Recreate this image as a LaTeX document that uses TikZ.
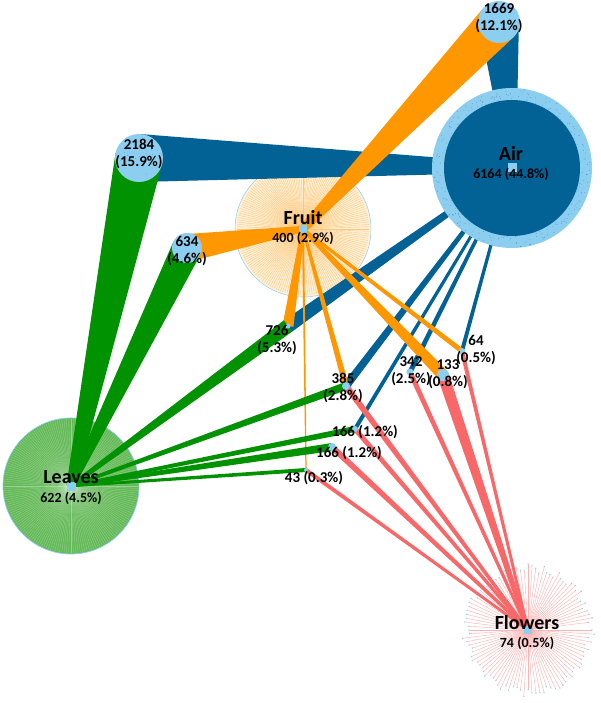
\documentclass[tikz,border=0pt]{standalone}
\usepackage{fontspec}
\setmainfont{Carlito}
\usetikzlibrary{calc}
\pgfdeclarelayer{sets}
\pgfdeclarelayer{links}
\pgfsetlayers{sets,links,main}
\definecolor{airc}{RGB}{2,98,150}
\definecolor{skyc}{RGB}{140,206,240}
\definecolor{orc}{RGB}{255,152,0}
\definecolor{grc}{RGB}{0,146,0}
\definecolor{rdc}{RGB}{248,104,104}
\definecolor{leafc}{RGB}{100,185,88}
% wedge: colour, set node, intersection node, half width at intersection
\newcommand\wdg[4]{%
  \pgfmathsetmacro\apx{0.15*#4+1}%
  \fill[#1] ($(#2)!\apx pt!90:(#3)$) -- ($(#3)!#4pt!-90:(#2)$) -- ($(#3)!#4pt!90:(#2)$) -- ($(#2)!\apx pt!-90:(#3)$) -- cycle;}
\begin{document}
\begin{tikzpicture}[x=1pt,y=-1pt,
  inter/.style={circle,fill=skyc,inner sep=0pt},
  lbl/.style={font=\fontsize{15}{17.5}\selectfont\bfseries,align=center,inner sep=0pt},
  setname/.style={font=\fontsize{20}{22}\selectfont\bfseries,inner sep=0pt},
  setnum/.style={font=\fontsize{14}{16}\selectfont\bfseries,inner sep=0pt},
  ctr/.style={fill=skyc,minimum size=8pt,inner sep=0pt}]
\useasboundingbox (0,0) rectangle (601,703);

% ---------- set circles (below links) ----------
\begin{pgfonlayer}{sets}
\node[circle,minimum size=136pt,fill=orc!15,draw=skyc,line width=0.5pt,inner sep=0pt] (fruit) at (303,229) {};
\foreach \a in {0,2,...,358} \draw[orc!55,line width=0.35pt] (fruit.center) -- ++(\a:66);
\node[circle,minimum size=136pt,fill=leafc,draw=skyc,line width=0.7pt,inner sep=0pt] (leaves) at (71,486) {};
\foreach \a in {0,2,...,358} \draw[white,opacity=0.35,line width=0.3pt] (leaves.center) -- ++(\a:67);
\node[circle,minimum size=136pt,inner sep=0pt] (flowers) at (528,630) {};
\pgfmathsetseed{11}
\foreach \a in {0,3.6,...,356.4} {
  \pgfmathsetmacro\rr{58+9*rnd}
  \draw[rdc!50,line width=0.45pt] (flowers.center) -- ++(\a:\rr);
  \fill[skyc] ($(flowers.center)+(\a:\rr)$) circle (0.7);
}
\end{pgfonlayer}

% ---------- Air set ----------
\node[circle,minimum size=160pt,fill=skyc,inner sep=0pt] (airring) at (512,168) {};
\pgfmathsetseed{5}
\foreach \i in {1,...,220} {
  \pgfmathsetmacro\ang{rnd*360}
  \pgfmathsetmacro\rr{68+11*rnd}
  \fill[airc!80] ($(airring.center)+(\ang:\rr)$) circle (0.35);
}
\node[circle,minimum size=136pt,fill=airc,inner sep=0pt] (air) at (512,168) {};

% ---------- intersection nodes ----------
\node[inter,minimum size=42pt] (n1669) at (499,22) {};
\node[inter,minimum size=48pt] (n2184) at (139,158) {};
\node[inter,minimum size=30pt] (n634) at (187,248) {};
\node[inter,minimum size=5pt] (n726) at (288,326) {};
\node[inter,minimum size=8pt] (n385) at (346,386) {};
\node[inter,minimum size=7pt] (n342) at (410,372) {};
\node[inter,minimum size=12pt] (n133) at (443,375) {};
\node[inter,minimum size=6pt] (n64) at (462,351) {};
\node[inter,minimum size=6pt] (n166a) at (355,429) {};
\node[inter,minimum size=8pt] (n166b) at (332,447) {};
\node[inter,minimum size=4pt] (n43) at (306,470) {};
\pgfmathsetseed{3}
\foreach \i in {1,...,25} {
  \pgfmathsetmacro\ang{rnd*360}
  \pgfmathsetmacro\rr{22*rnd}
  \fill[airc!70] ($(n2184.center)+(\ang:\rr)$) circle (0.35);
}

% ---------- links ----------
\begin{pgfonlayer}{links}
% Air
\wdg{airc}{air}{n1669}{20}
\wdg{airc}{air}{n2184}{24}
\wdg{airc}{air}{n726}{7}
\wdg{airc}{air}{n385}{4}
\wdg{airc}{air}{n342}{2.5}
\wdg{airc}{air}{n166a}{2}
\wdg{airc}{air}{n64}{2}
% Fruit
\wdg{orc}{fruit}{n1669}{21}
\wdg{orc}{fruit}{n634}{14}
\wdg{orc}{fruit}{n726}{5.5}
\wdg{orc}{fruit}{n385}{3}
\wdg{orc}{fruit}{n43}{0.6}
\wdg{orc}{fruit}{n133}{6}
\wdg{orc}{fruit}{n64}{2.5}
% Leaves
\wdg{grc}{leaves}{n2184}{24}
\wdg{grc}{leaves}{n634}{15}
\wdg{grc}{leaves}{n726}{7}
\wdg{grc}{leaves}{n385}{4}
\wdg{grc}{leaves}{n166a}{3}
\wdg{grc}{leaves}{n166b}{4}
\wdg{grc}{leaves}{n43}{2}
% Flowers
\wdg{rdc}{flowers}{n385}{3}
\wdg{rdc}{flowers}{n342}{2.5}
\wdg{rdc}{flowers}{n133}{6}
\wdg{rdc}{flowers}{n64}{2}
\wdg{rdc}{flowers}{n166a}{2.5}
\wdg{rdc}{flowers}{n166b}{3}
\wdg{rdc}{flowers}{n43}{2}
\end{pgfonlayer}

% ---------- centre squares ----------
\node[ctr,minimum size=9pt] (cair) at (air.center) {};
\node[ctr] (cfruit) at (fruit.center) {};
\node[ctr,minimum size=9pt] (cleaves) at (leaves.center) {};
\node[ctr] (cflowers) at (flowers.center) {};

% ---------- set labels ----------
\node[setname] (tair) at (511,153) {Air};
\node[setnum] (vair) at (511,174) {6164 (44.8\%)};
\node[setname] (tfruit) at (303,218) {Fruit};
\node[setnum] (vfruit) at (303,238) {400 (2.9\%)};
\node[setname] (tleaves) at (71,477) {Leaves};
\node[setnum] (vleaves) at (71,498) {622 (4.5\%)};
\node[setname] (tflowers) at (527,623) {Flowers};
\node[setnum] (vflowers) at (527,643) {74 (0.5\%)};

% ---------- intersection labels ----------
\node[lbl] (l1669) at (499,18) {1669\\(12.1\%)};
\node[lbl] (l2184) at (139,154) {2184\\(15.9\%)};
\node[lbl] (l634) at (187,251) {634\\(4.6\%)};
\node[lbl] (l726) at (277,340) {726\\(5.3\%)};
\node[lbl] (l385) at (343,388) {385\\(2.8\%)};
\node[lbl] (l342) at (411,371) {342\\(2.5\%)};
\node[lbl] (l133) at (448,374) {133\\(0.8\%)};
\node[lbl] (l64) at (476,350) {64\\(0.5\%)};
\node[lbl] (l166a) at (365,432) {166 (1.2\%)};
\node[lbl] (l166b) at (349,453) {166 (1.2\%)};
\node[lbl] (l43) at (314,478) {43 (0.3\%)};
\end{tikzpicture}
\end{document}
